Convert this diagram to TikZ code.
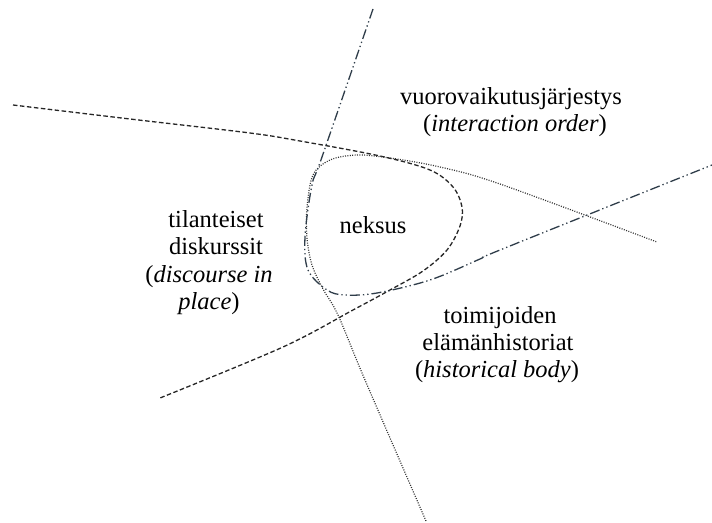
\documentclass[tikz,border=0pt]{standalone}
\usepackage{fontspec}
\setmainfont{Liberation Serif}
\definecolor{slate}{HTML}{2F3D4A}
\tikzset{
  lbl/.style={anchor=base, inner sep=0pt, font=\fontsize{24.5}{27.5}\selectfont},
  dashcurve/.style={line width=1.3pt, dash pattern=on 4.5pt off 2.5pt, black!85},
  dotcurve/.style={line width=1.2pt, dash pattern=on 1pt off 1.4pt, black!80},
  dashdotcurve/.style={line width=1.3pt, slate, dash pattern=on 10pt off 3pt on 1.3pt off 3pt on 1.3pt off 3pt}
}
\begin{document}
\begin{tikzpicture}[x=1pt,y=-1pt]
\useasboundingbox (0,0) rectangle (712,522);
% dashed curve
\draw[dashcurve] plot[smooth, tension=0.55] coordinates {(13,105) (130,119) (250,133) (300,141) (380,156) (430,170) (453,187) (462,207) (460,226) (447,250) (423,271) (390,290) (353,310) (283,347) (160,398)};
% dotted curve
\draw[dotcurve] plot[smooth, tension=0.55] coordinates {(426,521) (365,380) (338,315) (323,289) (312,265) (307,238) (307,208) (313,175) (330,160) (357,155) (390,158) (440,167) (500,184) (657,242)};
% dash-dot curve
\draw[dashdotcurve] plot[smooth, tension=0.55] coordinates {(373,9) (322,157) (312,185) (305,237) (308,270) (327,290) (345,295) (377,293) (430,280) (480,259) (500,250) (712,165)};
% labels
\node[lbl] (vo1) at (511,104) {vuorovaikutusjärjestys};
\node[lbl] (vo2) at (515,131) {(\textit{interaction order})};
\node[lbl] (td1) at (216,227) {tilanteiset};
\node[lbl] (td2) at (216,254.5) {diskurssit};
\node[lbl] (td3) at (209,282) {(\textit{discourse in}};
\node[lbl] (td4) at (209,309.5) {\textit{place})};
\node[lbl] (nx) at (373,233) {neksus};
\node[lbl] (th1) at (500,323.5) {toimijoiden};
\node[lbl] (th2) at (498,350) {elämänhistoriat};
\node[lbl] (th3) at (497,377) {(\textit{historical body})};
\end{tikzpicture}
\end{document}
